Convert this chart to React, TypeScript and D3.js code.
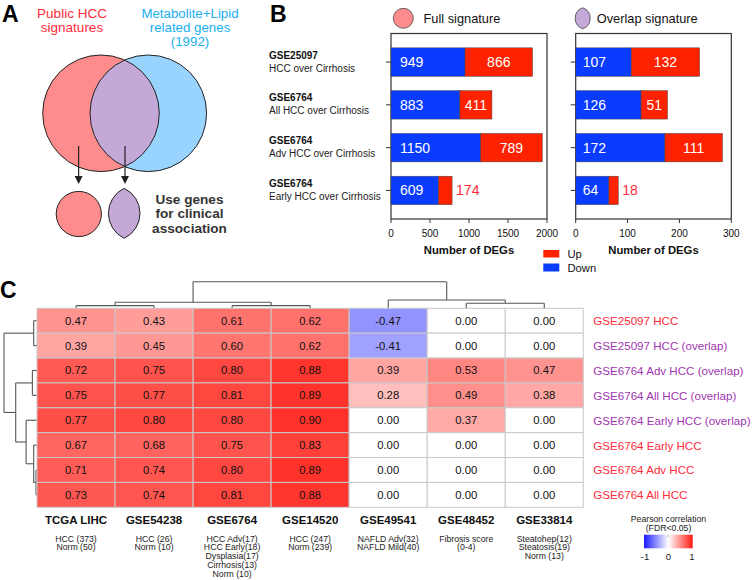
import React from 'react';
import * as d3 from 'd3';

// panel B data
const compIds = ['GSE25097', 'GSE6764', 'GSE6764', 'GSE6764'];
const compDesc = ['HCC over Cirrhosis', 'All HCC over Cirrhosis', 'Adv HCC over Cirrhosis', 'Early HCC over Cirrhosis'];
const fullDown = [949, 883, 1150, 609];
const fullUp = [866, 411, 789, 174];
const overlapDown = [107, 126, 172, 64];
const overlapUp = [132, 51, 111, 18];
const fullTicks = [0, 500, 1000, 1500, 2000];
const overlapTicks = [0, 100, 200, 300];

// panel C data
const cohorts = ['TCGA LIHC', 'GSE54238', 'GSE6764', 'GSE14520', 'GSE49541', 'GSE48452', 'GSE33814'];
const cohortGroups = [
  ['HCC (373)', 'Norm (50)'],
  ['HCC (26)', 'Norm (10)'],
  ['HCC Adv(17)', 'HCC Early(18)', 'Dysplasia(17)', 'Cirrhosis(13)', 'Norm (10)'],
  ['HCC (247)', 'Norm (239)'],
  ['NAFLD Adv(32)', 'NAFLD Mild(40)'],
  ['Fibrosis score', '(0-4)'],
  ['Steatohep(12)', 'Steatosis(19)', 'Norm (13)'],
];
const signatures = [
  'GSE25097 HCC',
  'GSE25097 HCC (overlap)',
  'GSE6764 Adv HCC (overlap)',
  'GSE6764 All HCC (overlap)',
  'GSE6764 Early HCC (overlap)',
  'GSE6764 Early HCC',
  'GSE6764 Adv HCC',
  'GSE6764 All HCC',
];
const corr = [
  [0.47, 0.43, 0.61, 0.62, -0.47, 0.0, 0.0],
  [0.39, 0.45, 0.6, 0.62, -0.41, 0.0, 0.0],
  [0.72, 0.75, 0.8, 0.88, 0.39, 0.53, 0.47],
  [0.75, 0.77, 0.81, 0.89, 0.28, 0.49, 0.38],
  [0.77, 0.8, 0.8, 0.9, 0.0, 0.37, 0.0],
  [0.67, 0.68, 0.75, 0.83, 0.0, 0.0, 0.0],
  [0.71, 0.74, 0.8, 0.89, 0.0, 0.0, 0.0],
  [0.73, 0.74, 0.81, 0.88, 0.0, 0.0, 0.0],
];
// dendrograms: leaves are indexes, h = merge height (0..1)
const colTree = {
  h: 1,
  children: [
    { h: 0.225, children: [{ h: 0.1, children: [0, 1] }, { h: 0.1, children: [2, 3] }] },
    { h: 0.31, children: [4, { h: 0.19, children: [5, 6] }] },
  ],
};
const rowTree = {
  h: 1,
  children: [
    { h: 0.1, children: [0, 1] },
    {
      h: 0.645,
      children: [
        { h: 0.14, children: [2, 3] },
        { h: 0.33, children: [4, { h: 0.1, children: [5, { h: 0.03, children: [6, 7] }] }] },
      ],
    },
  ],
};

const FONT = "'Liberation Sans', Arimo, Arial, Helvetica, sans-serif";
const RED = '#ff2200';
const BLUE = '#0a3cff';
const LBL_RED = '#ff2a3a';
const LBL_PURPLE = '#a035b0';

type Seg = [number, number, number, number];

// walk a tree, returns [position, height] and pushes elbow segments (pos, h coords)
function walk(node: any, leafPos: (i: number) => number, segs: Seg[]): [number, number] {
  if (typeof node === 'number') return [leafPos(node), 0];
  const kids = node.children.map((c: any) => walk(c, leafPos, segs));
  const ps = kids.map((k: [number, number]) => k[0]);
  kids.forEach((k: [number, number]) => segs.push([k[0], k[1], k[0], node.h]));
  segs.push([d3.min(ps)!, node.h, d3.max(ps)!, node.h]);
  return [(d3.min(ps)! + d3.max(ps)!) / 2, node.h];
}

function BarPanel({ x0, x1, max, ticks, down, up, labelOff }: any) {
  const top = 33.5;
  const bottom = 219;
  const x = d3.scaleLinear().domain([0, max]).range([x0, x1]);
  const y = d3.scaleBand<number>().domain(d3.range(down.length)).range([top, bottom]).padding(0.335);
  return (
    <g>
      <rect x={x0} y={top} width={x1 - x0} height={bottom - top} fill="none" stroke="#333" strokeWidth={1.2} />
      {down.map((d: number, i: number) => {
        const yy = y(i)!;
        const bw = y.bandwidth();
        const cy = yy + bw / 2;
        const upW = x(d + up[i]) - x(d);
        const inside = upW > 22;
        return (
          <g key={i}>
            <line x1={x0 - 5} x2={x0} y1={cy} y2={cy} stroke="#333" />
            <rect x={x(0)} y={yy} width={x(d) - x(0)} height={bw} fill={BLUE} stroke="#444" strokeWidth={0.5} />
            <rect x={x(d)} y={yy} width={upW} height={bw} fill={RED} stroke="#444" strokeWidth={0.5} />
            <text x={x0 + labelOff} y={cy + 5} fill="#fff" fontSize={14}>{d}</text>
            {inside ? (
              <text x={x(d) + upW / 2} y={cy + 5} fill="#fff" fontSize={14} textAnchor="middle">{up[i]}</text>
            ) : (
              <text x={x(d + up[i]) + 4} y={cy + 5} fill={LBL_RED} fontSize={14}>{up[i]}</text>
            )}
          </g>
        );
      })}
      {ticks.map((t: number) => (
        <g key={t}>
          <line x1={x(t)} x2={x(t)} y1={bottom} y2={bottom + 4} stroke="#333" />
          <text x={x(t)} y={bottom + 18} fontSize={10} textAnchor="middle" fill="#111">{t}</text>
        </g>
      ))}
      <text x={(x0 + x1) / 2} y={254} fontSize={11.3} fontWeight="bold" textAnchor="middle" fill="#111">Number of DEGs</text>
    </g>
  );
}

function lens(cx: number, cy: number, hw: number, hh: number) {
  const r = (hh * hh + hw * hw) / (2 * hw);
  return `M${cx},${cy - hh} A${r},${r} 0 0 1 ${cx},${cy + hh} A${r},${r} 0 0 1 ${cx},${cy - hh} Z`;
}

export default function App() {
  // heatmap scales
  const hx = d3.scaleBand<number>().domain(d3.range(cohorts.length)).range([37, 583.3]);
  const hy = d3.scaleBand<number>().domain(d3.range(signatures.length)).range([308.3, 507.3]);
  const color = d3.scaleLinear<string>().domain([-1, 0, 1]).range(['#1a1aff', '#ffffff', '#ff1a12']);

  const colSegs: Seg[] = [];
  walk(colTree, (i) => hx(i)! + hx.bandwidth() / 2, colSegs);
  const colH = d3.scaleLinear().domain([0, 1]).range([308.3, 281.7]);
  const rowSegs: Seg[] = [];
  walk(rowTree, (i) => hy(i)! + hy.bandwidth() / 2, rowSegs);
  const rowH = d3.scaleLinear().domain([0, 1]).range([37, 4]);

  // venn
  const L = { x: 101, y: 113.3, r: 58.3 };
  const R = { x: 148.3, y: 113.3, r: 58.3 };

  return (
    <svg width={752} height={580} style={{ position: 'absolute', left: 0, top: 0, background: '#fff', fontFamily: FONT }}>
      <defs>
        <clipPath id="clipL">
          <circle cx={L.x} cy={L.y} r={L.r} />
        </clipPath>
        <linearGradient id="cbar" x1="0" x2="1" y1="0" y2="0">
          <stop offset="0%" stopColor={color(-1)} />
          <stop offset="50%" stopColor={color(0)} />
          <stop offset="100%" stopColor={color(1)} />
        </linearGradient>
      </defs>

      {/* Panel A */}
      <text x={2} y={22} fontSize={23} fontWeight="bold">A</text>
      <text x={72} y={18} fontSize={13.5} fill={LBL_RED} textAnchor="middle">Public HCC</text>
      <text x={72} y={32} fontSize={13.5} fill={LBL_RED} textAnchor="middle">signatures</text>
      <text x={190} y={18} fontSize={13.3} fill="#1ab0ee" textAnchor="middle">Metabolite+Lipid</text>
      <text x={190} y={32} fontSize={13.3} fill="#1ab0ee" textAnchor="middle">related genes</text>
      <text x={190} y={46} fontSize={13.3} fill="#1ab0ee" textAnchor="middle">(1992)</text>
      <circle cx={L.x} cy={L.y} r={L.r} fill="#ff8c8c" />
      <circle cx={R.x} cy={R.y} r={R.r} fill="#99d4ff" />
      <circle cx={R.x} cy={R.y} r={R.r} fill="#c3a8d8" clipPath="url(#clipL)" />
      <circle cx={L.x} cy={L.y} r={L.r} fill="none" stroke="#222" strokeWidth={1} />
      <circle cx={R.x} cy={R.y} r={R.r} fill="none" stroke="#222" strokeWidth={1} />
      {[78.6, 125].map((ax) => (
        <g key={ax}>
          <line x1={ax} x2={ax} y1={146} y2={178} stroke="#222" strokeWidth={1.2} />
          <path d={`M${ax - 4},${176} L${ax + 4},${176} L${ax},${184} Z`} fill="#222" />
        </g>
      ))}
      <circle cx={78.8} cy={214} r={22.6} fill="#ff8c8c" stroke="#222" strokeWidth={1} />
      <path d={lens(124.2, 213.3, 15.8, 25)} fill="#c3a8d8" stroke="#222" strokeWidth={1} />
      {['Use genes', 'for clinical', 'association'].map((t, i) => (
        <text key={t} x={189.5} y={204 + i * 14.4} fontSize={13.6} fontWeight="bold" fill="#333" textAnchor="middle">{t}</text>
      ))}

      {/* Panel B */}
      <text x={270} y={22} fontSize={23} fontWeight="bold">B</text>
      <circle cx={403.3} cy={18.3} r={10} fill="#ff8c8c" stroke="#444" strokeWidth={0.8} />
      <text x={423.5} y={23} fontSize={12.8} fill="#111">Full signature</text>
      <path d={lens(582.7, 18.3, 7.5, 10.5)} fill="#c3a8d8" stroke="#444" strokeWidth={0.8} />
      <text x={596.7} y={23} fontSize={12.8} fill="#111">Overlap signature</text>
      {compIds.map((id, i) => {
        const y = d3.scaleBand<number>().domain(d3.range(compIds.length)).range([33.5, 219]).padding(0.335);
        const cy = y(i)! + y.bandwidth() / 2;
        return (
          <g key={i}>
            <text x={269} y={cy - 3.5} fontSize={10} fontWeight="bold" fill="#111">{id}</text>
            <text x={269} y={cy + 9.5} fontSize={10} fill="#222">{compDesc[i]}</text>
          </g>
        );
      })}
      <BarPanel x0={391} x1={547} max={2000} ticks={fullTicks} down={fullDown} up={fullUp} labelOff={9} />
      <BarPanel x0={575.7} x1={731.3} max={300} ticks={overlapTicks} down={overlapDown} up={overlapUp} labelOff={7} />
      <rect x={543.3} y={250} width={16} height={7.5} fill={RED} />
      <text x={567.5} y={258} fontSize={11.2} fill="#111">Up</text>
      <rect x={543.3} y={263.5} width={16} height={8} fill={BLUE} />
      <text x={567.5} y={271.5} fontSize={11.2} fill="#111">Down</text>

      {/* Panel C */}
      <text x={0} y={298} fontSize={23} fontWeight="bold">C</text>
      {colSegs.map((s, i) => (
        <line key={'c' + i} x1={s[0]} y1={colH(s[1])} x2={s[2]} y2={colH(s[3])} stroke="#555" strokeWidth={1.1} />
      ))}
      {rowSegs.map((s, i) => (
        <line key={'r' + i} x1={rowH(s[1])} y1={s[0]} x2={rowH(s[3])} y2={s[2]} stroke="#555" strokeWidth={1.1} />
      ))}
      {corr.map((row, r) =>
        row.map((v, c) => (
          <g key={r + '-' + c}>
            <rect x={hx(c)} y={hy(r)} width={hx.bandwidth()} height={hy.bandwidth()} fill={color(v)} stroke="#c8c8c8" strokeWidth={1} />
            <text x={hx(c)! + hx.bandwidth() / 2} y={hy(r)! + hy.bandwidth() / 2 + 4} fontSize={11.3} textAnchor="middle" fill="#111">
              {v.toFixed(2)}
            </text>
          </g>
        )),
      )}
      {signatures.map((s, r) => (
        <text key={s} x={593.3} y={hy(r)! + hy.bandwidth() / 2 + 4.5} fontSize={11.6} fill={s.includes('overlap') ? LBL_PURPLE : LBL_RED}>{s}</text>
      ))}
      {cohorts.map((c, i) => {
        const cx = hx(i)! + hx.bandwidth() / 2;
        return (
          <g key={c}>
            <text x={cx} y={524} fontSize={11.5} fontWeight="bold" textAnchor="middle" fill="#111">{c}</text>
            {cohortGroups[i].map((g, j) => (
              <text key={j} x={cx} y={541.5 + j * 8.8} fontSize={8.7} textAnchor="middle" fill="#222">{g}</text>
            ))}
          </g>
        );
      })}
      <text x={668.5} y={521.5} fontSize={8.7} textAnchor="middle" fill="#222">Pearson correlation</text>
      <text x={668.5} y={530.5} fontSize={8.7} textAnchor="middle" fill="#222">(FDR&lt;0.05)</text>
      <rect x={644} y={534.7} width={48.7} height={13.6} fill="url(#cbar)" />
      <line x1={668.3} x2={668.3} y1={534.7} y2={537} stroke="#999" strokeWidth={0.6} />
      {[-1, 0, 1].map((t, i) => (
        <text key={t} x={645 + i * 23.5} y={559.5} fontSize={9.5} textAnchor="middle" fill="#222">{t}</text>
      ))}
    </svg>
  );
}
